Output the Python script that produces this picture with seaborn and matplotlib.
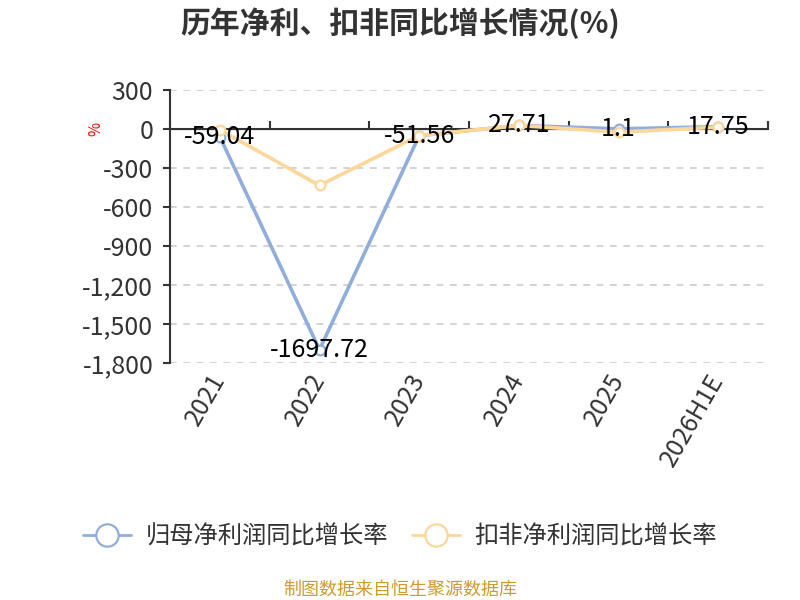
import matplotlib
matplotlib.use('Agg')
import matplotlib.pyplot as plt
from matplotlib.ticker import FuncFormatter
import seaborn as sns
import pandas as pd

years = ['2021', '2022', '2023', '2024', '2025', '2026H1E']
parent_growth = [-59.04, -1697.72, -51.56, 27.71, 1.1, 17.75]
deducted_growth = [-6, -434, -50, 27, -24, 14]
series_names = ['归母净利润同比增长率', '扣非净利润同比增长率']
y_ticks = [300, 0, -300, -600, -900, -1200, -1500, -1800]
title = '历年净利、扣非同比增长情况(%)'
source = '制图数据来自恒生聚源数据库'

sns.set_style('white')
plt.rcParams['font.family'] = ['Noto Sans CJK SC', 'DejaVu Sans']
plt.rcParams['axes.unicode_minus'] = False

df = pd.DataFrame({
    'year': years * 2,
    'value': parent_growth + deducted_growth,
    'series': [series_names[0]] * len(years) + [series_names[1]] * len(years),
})

colors = ['#8FAEDC', '#FFD699']
dark = '#333333'

fig = plt.figure(figsize=(8, 6), dpi=100)
ax = fig.add_axes([0.2125, 0.395, 0.7475, 0.455])
sns.lineplot(data=df, x='year', y='value', hue='series', palette=colors,
             marker='o', markersize=7, linewidth=2.6, sort=False, ax=ax, legend=False)
lines = list(ax.lines[:2])
for ln, c in zip(lines, colors):
    ln.set_markerfacecolor('white')
    ln.set_markeredgecolor(c)
    ln.set_markeredgewidth(1.6)
    ln.set_zorder(3)

ax.set_xlim(-0.5, len(years) - 0.5)
ax.set_ylim(min(y_ticks), max(y_ticks))
ax.set_yticks(y_ticks)
ax.yaxis.set_major_formatter(FuncFormatter(lambda v, p: f'{int(v):,}'))
ax.yaxis.grid(True, linestyle=(0, (4, 4)), color='#cccccc', linewidth=1.2)
ax.set_axisbelow(True)
for s in ['top', 'right', 'bottom']:
    ax.spines[s].set_visible(False)
ax.spines['left'].set_color(dark)
ax.spines['left'].set_linewidth(1.5)
ax.tick_params(axis='y', left=True, length=5, width=1.5, color=dark,
               pad=7, labelsize=18, labelcolor=dark)
ax.tick_params(axis='x', bottom=False, length=0, pad=9, labelsize=18, labelcolor=dark)
for lbl in ax.get_xticklabels():
    lbl.set_rotation(60)
    lbl.set_ha('right')
    lbl.set_va('center')
    lbl.set_rotation_mode('anchor')
ax.set_xlabel('')
ax.set_ylabel('%', color='red', fontsize=11, rotation=90)
zero_pos = (0 - min(y_ticks)) / (max(y_ticks) - min(y_ticks))
ax.yaxis.set_label_coords(-0.11, zero_pos)

# zero axis line with boundary ticks
ax.axhline(0, color=dark, linewidth=1.5, zorder=2)
sec = ax.secondary_xaxis(zero_pos)
sec.set_xticks([i - 0.5 for i in range(len(years) + 1)])
sec.set_xticklabels([])
sec.spines['bottom'].set_visible(False)
sec.tick_params(axis='x', direction='out', length=6, width=1.5, color=dark)

for i, v in enumerate(parent_growth):
    ax.text(i, v, f'{v:g}', ha='center', va='center', fontsize=18, color='black', zorder=6)

leg = fig.legend(handles=lines, labels=series_names, loc='center',
                 bbox_to_anchor=(0.5, 1 - 537 / 600), ncol=2, frameon=False,
                 fontsize=17.5, handlelength=1.95, markerscale=2.3, columnspacing=1.0,
                 labelcolor=dark, handletextpad=0.6)
for h in leg.legend_handles:
    h.set_linewidth(2)

fig.text(0.5, 1 - 23 / 600, title, fontsize=21.5, fontweight='bold', color=dark,
         ha='center', va='center')
fig.text(0.5, 1 - 590 / 600, source, fontsize=13, color='#D09A30', ha='center', va='center')

fig.savefig('out.png', dpi=100)
